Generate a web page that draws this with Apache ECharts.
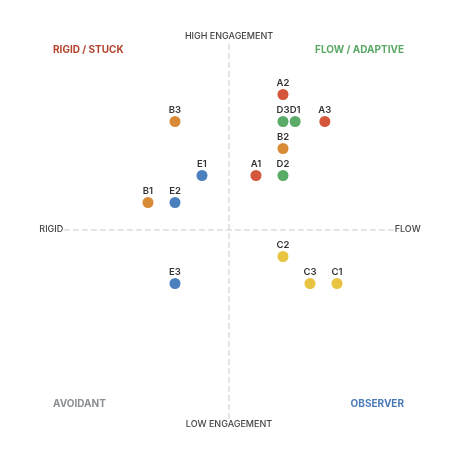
<!DOCTYPE html>
<html>
<head>
<meta charset="utf-8">
<script src="https://cdn.jsdelivr.net/npm/echarts@6/dist/echarts.min.js"></script>
<style>
html,body{margin:0;padding:0;background:#fff;}
#c{width:465px;height:472px;}
</style>
</head>
<body>
<div id="c"></div>
<script>
// Groups and their points: [flow (x), engagement (y), label]
const groupNames = ['A', 'B', 'C', 'D', 'E'];
const groupColors = ['#d4573b', '#d98a37', '#e8c440', '#5aab68', '#4a80bd'];
const pointsA = [[1, 2, 'A1'], [2, 5, 'A2'], [3.55, 4, 'A3']];
const pointsB = [[-3, 1, 'B1'], [2, 3, 'B2'], [-2, 4, 'B3']];
const pointsC = [[4, -2, 'C1'], [2, -1, 'C2'], [3, -2, 'C3']];
const pointsD = [[2.45, 4, 'D1'], [2, 2, 'D2'], [2, 4, 'D3']];
const pointsE = [[-1, 2, 'E1'], [-2, 1, 'E2'], [-2, -2, 'E3']];
const groupPoints = [pointsA, pointsB, pointsC, pointsD, pointsE];

const axisLabels = { top: 'HIGH ENGAGEMENT', bottom: 'LOW ENGAGEMENT', left: 'RIGID', right: 'FLOW' };
const quadrantLabels = ['RIGID / STUCK', 'FLOW / ADAPTIVE', 'AVOIDANT', 'OBSERVER'];
const quadrantColors = ['#b5442f', '#5aa866', '#8a8f94', '#4a7ab8'];

const FONT = 'Inter, "Noto Sans", sans-serif';
const chart = echarts.init(document.getElementById('c'), null, { renderer: 'canvas' });

const dashed = { color: '#dcdcdc', width: 1.5, type: [5, 4] };

const series = groupNames.map((g, i) => ({
  name: g,
  type: 'scatter',
  symbol: 'circle',
  symbolSize: 11,
  itemStyle: { color: groupColors[i], opacity: 1 },
  label: {
    show: true,
    position: 'top',
    distance: 0.5,
    formatter: p => p.data[2],
    fontFamily: FONT,
    fontSize: 9.5,
    fontWeight: 600,
    color: '#333'
  },
  data: groupPoints[i]
}));

const axisTextStyle = { fontFamily: FONT, fontSize: 9, fontWeight: 500, fill: '#444' };
const quadTextStyle = { fontFamily: FONT, fontSize: 10, fontWeight: 'bold' };

chart.setOption({
  animation: false,
  grid: { left: 64.3, top: 40.5, width: 329.4, height: 378 },
  xAxis: {
    type: 'value', min: -6.1, max: 6.1,
    axisLine: { show: true, onZero: true, lineStyle: dashed },
    axisTick: { show: false }, axisLabel: { show: false }, splitLine: { show: false }
  },
  yAxis: {
    type: 'value', min: -7, max: 7,
    axisLine: { show: true, onZero: true, lineStyle: dashed },
    axisTick: { show: false }, axisLabel: { show: false }, splitLine: { show: false }
  },
  series: series
});

const c0 = chart.convertToPixel({ gridIndex: 0 }, [0, 0]);
const xL = chart.convertToPixel({ gridIndex: 0 }, [-6.1, 0]);
const xR = chart.convertToPixel({ gridIndex: 0 }, [6.1, 0]);
const yT = chart.convertToPixel({ gridIndex: 0 }, [0, 7]);
const yB = chart.convertToPixel({ gridIndex: 0 }, [0, -7]);

chart.setOption({
  graphic: [
    { type: 'text', x: c0[0], y: yT[1] - 4, style: Object.assign({ text: axisLabels.top, align: 'center', verticalAlign: 'middle' }, axisTextStyle) },
    { type: 'text', x: c0[0], y: yB[1] + 6, style: Object.assign({ text: axisLabels.bottom, align: 'center', verticalAlign: 'middle' }, axisTextStyle) },
    { type: 'text', x: xL[0] - 1, y: c0[1], style: Object.assign({ text: axisLabels.left, align: 'right', verticalAlign: 'middle' }, axisTextStyle) },
    { type: 'text', x: xR[0] + 1, y: c0[1], style: Object.assign({ text: axisLabels.right, align: 'left', verticalAlign: 'middle' }, axisTextStyle) },
    { type: 'text', x: 53, y: 49.5, style: Object.assign({ text: quadrantLabels[0], align: 'left', verticalAlign: 'middle', fill: quadrantColors[0] }, quadTextStyle) },
    { type: 'text', x: 404, y: 49.5, style: Object.assign({ text: quadrantLabels[1], align: 'right', verticalAlign: 'middle', fill: quadrantColors[1] }, quadTextStyle) },
    { type: 'text', x: 53, y: 403.5, style: Object.assign({ text: quadrantLabels[2], align: 'left', verticalAlign: 'middle', fill: quadrantColors[2] }, quadTextStyle) },
    { type: 'text', x: 404, y: 403.5, style: Object.assign({ text: quadrantLabels[3], align: 'right', verticalAlign: 'middle', fill: quadrantColors[3] }, quadTextStyle) }
  ]
});
</script>
</body>
</html>
